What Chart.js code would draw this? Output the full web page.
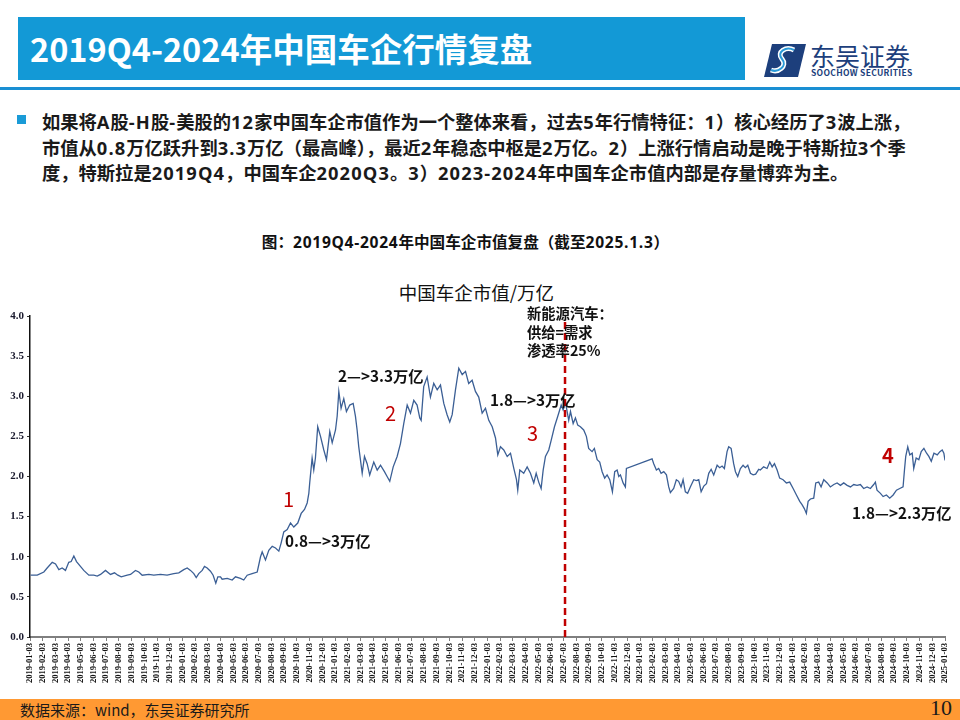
<!DOCTYPE html>
<html>
<head>
<meta charset="utf-8">
<script src="https://cdn.jsdelivr.net/npm/chart.js@4.4.1/dist/chart.umd.min.js"></script>
<style>
    body {
        margin: 0;
        width: 960px;
        height: 720px;
        position: relative;
        overflow: hidden;
        background: #fff;
        font-family: "Noto Sans CJK SC", "Noto Sans", sans-serif;
        color: #111;
    }
    .abs { position: absolute; white-space: nowrap; }
    .titlebar { left: 18px; top: 17px; width: 727px; height: 63px; background: #1399d6; }
    .title { left: 30px; top: 27px; font-size: 32.5px; line-height: 42px; font-weight: bold; color: #fff; }
    .rule { left: 0; top: 87px; width: 960px; height: 3px; background: #1a8fd3; }
    .bullet { left: 17px; top: 115px; width: 9px; height: 9px; background: #1a9bd7; }
    .para { left: 42px; top: 109px; font-size: 18.3px; line-height: 25.5px; font-weight: bold; color: #1a1a1a; }
    .n { font-family: "Open Sans", "Noto Sans CJK SC", sans-serif; letter-spacing: 1.1px; }
    .caption { left: 0; width: 931px; text-align: center; top: 231px; font-size: 15.6px; line-height: 20px; font-weight: bold; }
    .caption .n { letter-spacing: 0.7px; }
    .ctitle { left: 0; width: 953px; text-align: center; top: 281px; font-size: 18.5px; line-height: 22px; }
    .note { font-size: 15.3px; line-height: 18px; font-weight: bold; color: #111; }
    .red { font-size: 20px; line-height: 22px; color: #c00000; }
    .footer { left: 0; top: 699px; width: 960px; height: 21px; background: #ff9933; }
    .src { left: 20px; top: 700px; font-size: 15px; line-height: 20px; color: #1a1a1a; }
    .page { left: 930px; top: 695px; font-size: 22px; line-height: 26px; font-family: "Liberation Serif", serif; color: #1a1a1a; }
    #wrap { position: absolute; left: 0; top: 300px; width: 960px; height: 390px; }
</style>
</head>
<body>
<div class="abs titlebar"></div>
<div class="abs title">2019Q4-2024年中国车企行情复盘</div>
<div class="abs rule"></div>

<svg class="abs" style="left:764px;top:44px" width="42" height="33" viewBox="0 0 42 33">
    <polygon points="8,0 42,0 34,33 0,33" fill="#1d3f7c"/>
    <path d="M30 6 C22 2 12 8 18 15 C24 22 14 29 7 26" stroke="#fff" stroke-width="5" fill="none"/>
    <path d="M30 6 C22 2 12 8 18 15 C24 22 14 29 7 26" stroke="#2a9ad8" stroke-width="2" fill="none"/>
</svg>
<div class="abs" style="left:810px;top:40px;font-size:25px;line-height:30px;color:#1d3f7c;">东吴证券</div>
<div class="abs" style="left:811px;top:67px;font-size:8.5px;line-height:11px;font-weight:bold;color:#1d3f7c;letter-spacing:0.3px;">SOOCHOW SECURITIES</div>

<div class="abs bullet"></div>
<div class="abs para">如果将<span class="n">A</span>股<span class="n">-H</span>股<span class="n">-</span>美股的<span class="n">12</span>家中国车企市值作为一个整体来看，过去<span class="n">5</span>年行情特征：<span class="n">1</span>）核心经历了<span class="n">3</span>波上涨，<br>市值从<span class="n">0.8</span>万亿跃升到<span class="n">3.3</span>万亿（最高峰），最近<span class="n">2</span>年稳态中枢是<span class="n">2</span>万亿。<span class="n">2</span>）上涨行情启动是晚于特斯拉<span class="n">3</span>个季<br>度，特斯拉是<span class="n">2019Q4</span>，中国车企<span class="n">2020Q3</span>。<span class="n">3</span>）<span class="n">2023-2024</span>年中国车企市值内部是存量博弈为主。</div>

<div class="abs caption">图：<span class="n">2019Q4-2024</span>年中国车企市值复盘（截至<span class="n">2025.1.3</span>）</div>
<div class="abs ctitle">中国车企市值/万亿</div>

<div id="wrap"><canvas id="capChart"></canvas></div>

<div class="abs red" style="left:283px;top:488px;">1</div>
<div class="abs note" style="left:285px;top:531px;">0.8—&gt;3万亿</div>
<div class="abs note" style="left:338px;top:366px;">2—&gt;3.3万亿</div>
<div class="abs red" style="left:385px;top:402px;">2</div>
<div class="abs note" style="left:490px;top:390px;">1.8—&gt;3万亿</div>
<div class="abs red" style="left:527px;top:422px;">3</div>
<div class="abs note" style="left:527px;top:304px;font-size:14.3px;line-height:18.5px;">新能源汽车：<br>供给=需求<br>渗透率25%</div>
<div class="abs red" style="left:882px;top:444px;font-weight:bold;">4</div>
<div class="abs note" style="left:852px;top:503px;">1.8—&gt;2.3万亿</div>

<div class="abs footer"></div>
<div class="abs src">数据来源：wind，东吴证券研究所</div>
<div class="abs page">10</div>

<script>
// month ticks (0 = 2019-01-03)
const tickLabels = [
    "2019-01-03", "2019-02-03", "2019-03-03", "2019-04-03", "2019-05-03", "2019-06-03",
    "2019-07-03", "2019-08-03", "2019-09-03", "2019-10-03", "2019-11-03", "2019-12-03",
    "2020-01-03", "2020-02-03", "2020-03-03", "2020-04-03", "2020-05-03", "2020-06-03",
    "2020-07-03", "2020-08-03", "2020-09-03", "2020-10-03", "2020-11-03", "2020-12-03",
    "2021-01-03", "2021-02-03", "2021-03-03", "2021-04-03", "2021-05-03", "2021-06-03",
    "2021-07-03", "2021-08-03", "2021-09-03", "2021-10-03", "2021-11-03", "2021-12-03",
    "2022-01-03", "2022-02-03", "2022-03-03", "2022-04-03", "2022-05-03", "2022-06-03",
    "2022-07-03", "2022-08-03", "2022-09-03", "2022-10-03", "2022-11-03", "2022-12-03",
    "2023-01-03", "2023-02-03", "2023-03-03", "2023-04-03", "2023-05-03", "2023-06-03",
    "2023-07-03", "2023-08-03", "2023-09-03", "2023-10-03", "2023-11-03", "2023-12-03",
    "2024-01-03", "2024-02-03", "2024-03-03", "2024-04-03", "2024-05-03", "2024-06-03",
    "2024-07-03", "2024-08-03", "2024-09-03", "2024-10-03", "2024-11-03", "2024-12-03",
    "2025-01-03"
];

const yTicks = [0, 0.5, 1.0, 1.5, 2.0, 2.5, 3.0, 3.5, 4.0];

// position of each sample, in months after 2019-01-03
const monthPos = [
    0.04, 0.57, 1.09, 1.35, 1.75, 2.01, 2.27, 2.53, 2.79, 3.05, 3.24, 3.45, 3.66, 3.97, 4.23, 4.63,
    5.02, 5.29, 5.55, 5.94, 6.33, 6.65, 6.91, 7.18, 7.65, 7.91, 8.30, 8.56, 8.83, 9.35, 9.74, 10.27,
    10.79, 11.31, 11.71, 12.10, 12.37, 12.63, 12.89, 13.08, 13.28, 13.55, 13.73, 13.94, 14.20, 14.41,
    14.62, 14.78, 14.99,
    15.12, 15.52, 15.91, 16.17, 16.56, 16.82, 17.09, 17.48, 17.88, 18.14, 18.27, 18.53, 18.79, 19.06,
    19.32, 19.58, 19.76, 19.97, 20.24, 20.50, 20.76, 21.07, 21.34, 21.60, 21.81, 21.94, 22.01, 22.20,
    22.33, 22.46, 22.64, 22.86, 23.12, 23.33, 23.59, 23.78, 24.04, 24.17, 24.30, 24.48, 24.69, 24.90,
    25.16, 25.43, 25.61, 25.74, 25.87, 26.14, 26.32, 26.53, 26.73, 27.05, 27.32, 27.58, 27.89, 28.10,
    28.31, 28.58, 28.89, 29.15,
    29.41, 29.68, 29.94, 30.20, 30.46, 30.67, 30.78, 30.98, 31.25, 31.51, 31.77, 32.04, 32.30, 32.56,
    32.82, 33.03, 33.22, 33.48, 33.74, 34.01, 34.27, 34.52, 34.79, 35.05, 35.31, 35.58, 35.84, 36.10,
    36.37, 36.63, 36.81, 37.02, 37.28, 37.55, 37.81, 38.07, 38.28, 38.38, 38.54, 38.85, 39.12, 39.38,
    39.64, 39.83, 40.03, 40.22, 40.38, 40.56, 40.82, 41.01, 41.27, 41.53, 41.80, 41.95, 42.13, 42.39,
    42.53, 42.74, 42.92, 43.10, 43.31, 43.57, 43.78, 43.96, 44.23, 44.41, 44.63, 44.83, 45.02, 45.22,
    45.41, 45.62, 45.83, 46.01, 46.20, 46.33, 46.46, 46.67, 46.85, 46.93,
    48.95, 49.08, 49.29, 49.47, 49.66, 49.87, 50.08, 50.26, 50.39, 50.65, 50.86, 51.04, 51.23, 51.39,
    51.57, 51.75, 51.96, 52.23, 52.44, 52.62, 52.81, 53.02, 53.23, 53.41, 53.60, 53.80, 54.07, 54.27,
    54.46, 54.64, 54.85, 54.98, 55.17, 55.37, 55.51, 55.69, 55.90, 56.11, 56.29, 56.48, 56.69, 56.90,
    57.10, 57.34,
    57.47, 57.73, 58.00, 58.21, 58.40, 58.58, 58.79, 58.99, 59.26, 59.52, 59.78, 60.05, 60.31, 60.57,
    60.75, 60.93, 61.09, 61.23, 61.41, 61.67, 61.83, 62.06, 62.25, 62.46, 62.73, 62.98, 63.25, 63.51,
    63.77, 64.03, 64.30, 64.56, 64.82, 65.08, 65.34, 65.60, 65.87, 66.13, 66.39, 66.52, 66.65, 66.92,
    67.13, 67.39, 67.65, 67.92, 68.18, 68.44, 68.70, 68.81, 68.91, 69.07, 69.23, 69.42, 69.54, 69.73,
    69.94, 70.13, 70.34, 70.55, 70.73, 70.92, 71.13, 71.39, 71.60, 71.78, 71.91, 72.00
];

// 中国车企市值 (万亿)
const capValues = [
    0.77, 0.77, 0.81, 0.86, 0.93, 0.91, 0.84, 0.86, 0.83, 0.93, 0.94, 1.01, 0.94, 0.88, 0.83, 0.77,
    0.77, 0.76, 0.78, 0.83, 0.78, 0.80, 0.77, 0.75, 0.77, 0.78, 0.83, 0.81, 0.77, 0.78, 0.77, 0.78,
    0.77, 0.79, 0.80, 0.84, 0.86, 0.83, 0.79, 0.74, 0.79, 0.83, 0.88, 0.86, 0.82, 0.77,
    0.67, 0.75, 0.75,
    0.72, 0.73, 0.71, 0.75, 0.73, 0.71, 0.77, 0.79, 0.81, 1.00, 1.06, 0.96, 1.08, 1.13,
    1.11, 1.07, 1.17, 1.31, 1.34, 1.42, 1.37, 1.42, 1.54, 1.59, 1.67, 1.79, 1.92, 2.23,
    2.08, 2.23, 2.62, 2.50, 2.33, 2.21, 2.56, 2.42, 2.58, 2.75, 3.06, 2.85, 2.97, 2.81,
    2.89, 2.91, 2.75, 2.58, 2.37, 2.04, 2.25, 2.16, 2.02, 2.18, 2.08, 2.14, 2.06, 2.00,
    1.94, 2.12, 2.25, 2.41,
    2.66, 2.89, 2.79, 2.95, 2.89, 2.73, 2.70, 3.12, 3.24, 2.99, 3.16, 3.08, 3.14, 2.91,
    2.77, 2.68, 2.77, 3.08, 3.35, 3.27, 3.31, 3.16, 3.20, 3.06, 2.99, 2.79, 2.85, 2.70,
    2.62, 2.48, 2.27, 2.37, 2.33, 2.25, 2.29, 2.10, 1.96, 1.83, 2.08, 2.04, 2.12, 2.04,
    1.92, 2.04, 1.93, 1.85, 2.08, 2.25, 2.33, 2.45, 2.62, 2.75, 2.89, 2.83, 2.93, 2.70,
    2.81, 2.66, 2.73, 2.64, 2.62, 2.58, 2.50, 2.35, 2.31, 2.35, 2.21, 2.18, 2.06, 1.98,
    2.02, 1.96, 1.81, 2.06, 2.08, 2.00, 2.02, 1.92, 1.87, 2.10,
    2.22, 2.16, 2.08, 2.10, 2.04, 2.06, 2.02, 1.87, 1.80, 1.85, 1.96, 1.94, 1.87, 1.96,
    1.81, 1.79, 1.87, 1.96, 1.95, 1.96, 1.81, 1.88, 1.91, 2.04, 2.09, 2.02, 2.14, 2.11,
    2.13, 2.10, 2.31, 2.37, 2.35, 2.16, 2.06, 2.00, 2.10, 2.14, 2.11, 2.14, 2.04, 2.02,
    2.03, 2.09,
    2.08, 2.12, 2.10, 2.18, 2.12, 2.16, 2.08, 1.98, 1.96, 1.92, 1.93, 1.85, 1.77, 1.69,
    1.65, 1.60, 1.54, 1.69, 1.72, 1.73, 1.92, 1.93, 1.87, 1.96, 1.92, 1.87, 1.90, 1.92,
    1.89, 1.92, 1.89, 1.87, 1.90, 1.89, 1.90, 1.85, 1.87, 1.85, 1.90, 1.93, 1.83, 1.79,
    1.75, 1.77, 1.73, 1.77, 1.83, 1.85, 1.87, 2.08, 2.25, 2.37, 2.27, 2.29, 2.10, 2.23,
    2.21, 2.31, 2.35, 2.29, 2.25, 2.19, 2.29, 2.27, 2.31, 2.33, 2.29, 2.20
];

// 新能源汽车渗透率25% marker (2022-07)
const nevMonth = 42.1;
const nevTop = 3.95;

document.addEventListener("DOMContentLoaded", function () {
    const ctx = document.getElementById("capChart").getContext("2d");

    new Chart(ctx, {
        type: "line",
        data: {
            datasets: [
                {
                    label: "渗透率25%",
                    data: [{ x: nevMonth, y: 0 }, { x: nevMonth, y: nevTop }],
                    borderColor: "#c00000",
                    borderWidth: 2.5,
                    borderDash: [7, 4],
                    pointRadius: 0,
                },
                {
                    label: "中国车企市值",
                    data: monthPos.map((m, i) => ({ x: m, y: capValues[i] })),
                    borderColor: "#3b5f95",
                    borderWidth: 1.3,
                    pointRadius: 0,
                    tension: 0,
                },
            ],
        },
        options: {
            responsive: true,
            maintainAspectRatio: false,
            animation: false,
            layout: { padding: { top: 16, right: 15, left: 0, bottom: 0 } },
            plugins: {
                legend: { display: false },
                tooltip: { enabled: false },
            },
            scales: {
                x: {
                    type: "linear",
                    min: 0,
                    max: tickLabels.length - 1,
                    afterBuildTicks: function (axis) {
                        axis.ticks = tickLabels.map((_, i) => ({ value: i }));
                    },
                    afterFit: function (axis) {
                        axis.height = 53;
                    },
                    grid: {
                        drawOnChartArea: false,
                        tickLength: 4,
                        color: "#7f7f7f",
                    },
                    border: { color: "#7f7f7f", width: 2 },
                    ticks: {
                        autoSkip: false,
                        minRotation: 90,
                        maxRotation: 90,
                        padding: 2,
                        color: "#111",
                        font: { family: "Liberation Serif", size: 8.6, weight: "bold" },
                        callback: function (value) {
                            return tickLabels[value];
                        },
                    },
                },
                y: {
                    min: 0,
                    max: 4,
                    afterBuildTicks: function (axis) {
                        axis.ticks = yTicks.map(v => ({ value: v }));
                    },
                    afterFit: function (axis) {
                        axis.width = 30;
                    },
                    grid: {
                        drawOnChartArea: false,
                        tickLength: 3,
                        color: "#333",
                    },
                    border: { color: "#111", width: 1.5 },
                    ticks: {
                        padding: 3,
                        color: "#1a1a2e",
                        font: { family: "Liberation Serif", size: 11, weight: "bold" },
                        callback: function (value) {
                            return value.toFixed(1);
                        },
                    },
                },
            },
        },
    });
});
</script>
</body>
</html>
